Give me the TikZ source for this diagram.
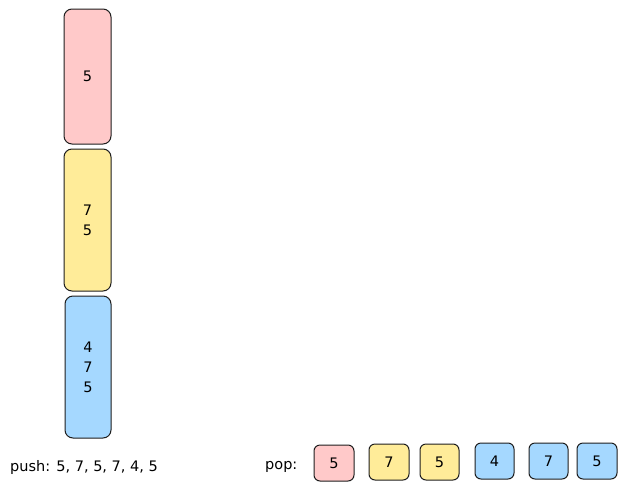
\documentclass[tikz,border=0pt]{standalone}
\usepackage{fontspec}
\setmainfont{DejaVu Sans}
\definecolor{pinkf}{HTML}{FFC9C9}
\definecolor{yellowf}{HTML}{FFEC99}
\definecolor{bluef}{HTML}{A5D8FF}
\definecolor{strokec}{HTML}{1E1E1E}
\begin{document}
\begin{tikzpicture}[x=1pt,y=-1pt,
  bigbox/.style={draw=strokec,line width=1pt,rounded corners=8pt,minimum width=47pt,minimum height=137pt,inner sep=0pt,align=center,font=\fontsize{14.5}{20}\selectfont},
  popbox/.style={draw=strokec,line width=1pt,rounded corners=6pt,minimum width=40pt,minimum height=36pt,inner sep=0pt,font=\fontsize{14.5}{20}\selectfont},
  lbl/.style={font=\fontsize{14.5}{20}\selectfont,inner sep=0pt}]
\useasboundingbox (0,0) rectangle (627,491);
\node[bigbox,fill=pinkf,minimum height=135pt] (s1) at (87.5,76.5) {5};
\node[bigbox,fill=yellowf,minimum height=142pt] (s2) at (87.5,220) {7\\5};
\node[bigbox,fill=bluef,minimum height=142pt,minimum width=46pt] (s3) at (88,367) {4\\7\\5};
\node[lbl,anchor=base west] (push) at (10,471) {push: 5, 7, 5, 7, 4, 5};
\node[lbl,anchor=base west] (pop) at (265,469) {pop:};
\node[popbox,fill=pinkf] (p1) at (334,463) {5};
\node[popbox,fill=yellowf] (p2) at (389,462) {7};
\node[popbox,fill=yellowf,minimum width=39pt] (p3) at (439.5,462) {5};
\node[popbox,fill=bluef,minimum width=39pt] (p4) at (494.5,461) {4};
\node[popbox,fill=bluef,minimum width=39pt] (p5) at (548.5,461) {7};
\node[popbox,fill=bluef] (p6) at (597,461) {5};
\end{tikzpicture}
\end{document}
